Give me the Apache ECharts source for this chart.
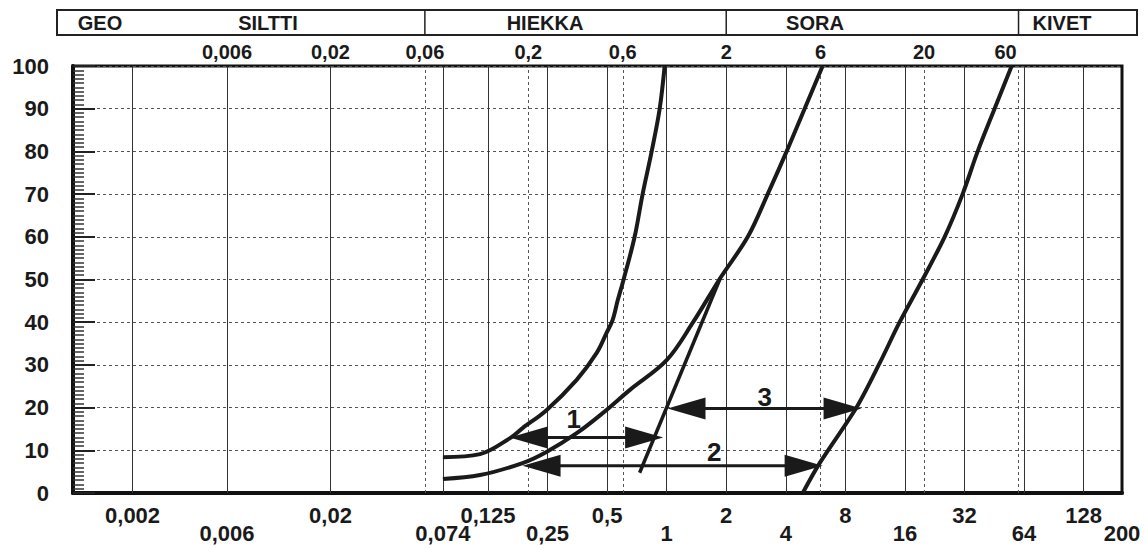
<!DOCTYPE html>
<html lang="fi">
<head>
<meta charset="UTF-8">
<script src="https://cdn.jsdelivr.net/npm/echarts/dist/echarts.min.js"></script>
<style>
    html, body { margin: 0; padding: 0; background: #fff; }
    #chart { width: 1148px; height: 549px; }
</style>
</head>
<body>
<div id="chart"></div>
<script>
// grain size (mm) against passing percentage
const curve1 = [[0.074, 8.4], [0.114, 9.1], [0.161, 12.8], [0.187, 15.2], [0.247, 19.4], [0.351, 26.5],
    [0.443, 32.8], [0.497, 37.5], [0.533, 40.5], [0.565, 45], [0.606, 50], [0.689, 60], [0.756, 70],
    [0.840, 80], [0.922, 90], [0.977, 100]];
const curve2 = [[0.074, 3.3], [0.114, 4.2], [0.187, 7.0], [0.247, 9.6], [0.351, 14.0], [0.475, 18.7],
    [0.650, 24.1], [1.0, 31.1], [1.36, 40], [1.87, 50.4], [2.57, 60], [3.24, 70], [4.04, 80],
    [4.98, 90], [6.14, 100]];
const line3 = [[0.73, 4.75], [1.87, 50.4]];
const curve4 = [[4.87, 0], [5.93, 7], [9.12, 20.1], [11.92, 30.4], [15.04, 40], [19.66, 50], [25.4, 60],
    [31.3, 70], [37.3, 80], [45.4, 90], [55.4, 100]];

// range arrows: from, to, level, label and label anchor
const arrowFrom = [0.161, 0.187, 1.01];
const arrowTo = [0.96, 6.14, 9.66];
const arrowLevel = [13, 6.4, 19.8];
const arrowName = ['1', '2', '3'];
const arrowTextAt = [[0.339, 17.3], [1.74, 9.5], [3.13, 22.4]];

// grid lines and tick labels
const solidLines = [0.002, 0.006, 0.02, 0.074, 0.125, 0.25, 0.5, 1, 2, 4, 8, 16, 32, 64, 128];
const dottedLines = [0.06, 0.2, 0.6, 6, 20, 60];
const topTicks = [0.006, 0.02, 0.06, 0.2, 0.6, 2, 6, 20, 60];
const bottomRow1 = [0.002, 0.02, 0.125, 0.5, 2, 8, 32, 128];
const bottomRow2 = [0.006, 0.074, 0.25, 1, 4, 16, 64, 200];

// header
const zoneNames = ['GEO', 'SILTTI', 'HIEKKA', 'SORA', 'KIVET'];
const zoneBounds = [0.06, 2, 60];

const ink = '#1a1a1a';
const font = 'Liberation Sans';
const fmt = v => String(v).replace('.', ',');

const chart = echarts.init(document.getElementById('chart'), null, { renderer: 'svg' });

// invisible marker line that only carries a tick label
function labelLine(v, pos, dist) {
    const item = {
        xAxis: v,
        name: fmt(v),
        lineStyle: { color: 'rgba(0,0,0,0)', width: 0 },
        label: { show: true, position: pos, distance: dist }
    };
    if (v === 60) item.label.offset = [-13, 0]; // printed a bit left of its line
    return item;
}

const curveStyle = { color: ink, width: 4 };

const option = {
    animation: false,
    grid: { left: 73, right: 26, top: 66, bottom: 56, show: true, borderColor: '#111', borderWidth: 3 },
    xAxis: {
        type: 'log',
        min: 0.001,
        max: 200,
        axisLine: { onZero: false, lineStyle: { color: '#111', width: 4 } },
        axisTick: { show: false },
        axisLabel: { show: false },
        splitLine: { show: false }
    },
    yAxis: {
        type: 'value',
        min: 0,
        max: 100,
        interval: 10,
        axisLine: { show: true, lineStyle: { color: '#111', width: 4 } },
        axisTick: { show: true, inside: true, length: 22, lineStyle: { color: '#222', width: 2 } },
        minorTick: { show: true, splitNumber: 10, length: 11, lineStyle: { color: '#333', width: 1.5 } },
        axisLabel: {
            color: ink, fontFamily: font, fontWeight: 'bold', fontSize: 22,
            margin: 24, padding: [10, 0, 0, 0]
        },
        splitLine: { show: true, lineStyle: { color: '#555', type: [3, 3], width: 1 } }
    },
    series: [
        {
            name: 'grid', type: 'line', data: [], z: 1,
            markLine: {
                silent: true, symbol: 'none', z: 1, animation: false, precision: 6,
                lineStyle: { color: '#333', type: 'solid', width: 1 },
                label: { formatter: '{b}', color: ink, fontFamily: font, fontWeight: 'bold', fontSize: 22 },
                data: solidLines.map(v => ({ xAxis: v, label: { show: false } }))
                    .concat(bottomRow1.map(v => labelLine(v, 'start', 11)))
                    .concat(bottomRow2.map(v => labelLine(v, 'start', 29)))
            }
        },
        {
            name: 'grid2', type: 'line', data: [], z: 1,
            markLine: {
                silent: true, symbol: 'none', z: 1, animation: false, precision: 6,
                lineStyle: { color: '#555', type: [3, 3], width: 1 },
                label: { formatter: '{b}', color: ink, fontFamily: font, fontWeight: 'bold', fontSize: 20 },
                data: dottedLines.map(v => ({ xAxis: v, label: { show: false } }))
                    .concat(topTicks.map(v => labelLine(v, 'end', 4)))
            }
        },
        { name: 'c1', type: 'line', data: curve1, smooth: 0.35, symbol: 'none', lineStyle: curveStyle, z: 3 },
        { name: 'c2', type: 'line', data: curve2, smooth: 0.35, symbol: 'none', lineStyle: curveStyle, z: 3 },
        { name: 'c3', type: 'line', data: line3, symbol: 'none', lineStyle: { color: ink, width: 3.5 }, z: 3 },
        { name: 'c4', type: 'line', data: curve4, smooth: 0.3, symbol: 'none', lineStyle: curveStyle, z: 3 },
        {
            name: 'arrows', type: 'custom', z: 4,
            data: arrowName.map((n, i) => [arrowFrom[i], arrowTo[i], arrowLevel[i], arrowTextAt[i][0], arrowTextAt[i][1]]),
            encode: { x: [0, 1, 3], y: [2, 4] },
            renderItem: function (params, api) {
                const a = api.coord([api.value(0), api.value(2)]);
                const b = api.coord([api.value(1), api.value(2)]);
                const t = api.coord([api.value(3), api.value(4)]);
                const L = 38, H = 11;
                return {
                    type: 'group',
                    children: [
                        { type: 'line', shape: { x1: a[0] + L - 2, y1: a[1], x2: b[0] - L + 2, y2: b[1] },
                          style: { stroke: ink, lineWidth: 3 } },
                        { type: 'polygon', shape: { points: [[a[0], a[1]], [a[0] + L, a[1] - H], [a[0] + L, a[1] + H]] },
                          style: { fill: ink } },
                        { type: 'polygon', shape: { points: [[b[0], b[1]], [b[0] - L, b[1] - H], [b[0] - L, b[1] + H]] },
                          style: { fill: ink } },
                        { type: 'text', x: t[0], y: t[1],
                          style: { text: arrowName[params.dataIndex], fill: ink, align: 'center', verticalAlign: 'middle',
                                   font: 'bold 26px "Liberation Sans"' } }
                    ]
                };
            }
        }
    ]
};

chart.setOption(option);

// header box above the plot, split at the soil class boundaries
const bx = zoneBounds.map(v => chart.convertToPixel({ xAxisIndex: 0 }, v));
const boxL = 57, boxR = 1137, boxT = 10, boxB = 35;
const zoneTextX = [100, 268, 545, 815, 1062];
const header = [
    { type: 'rect', shape: { x: boxL, y: boxT, width: boxR - boxL, height: boxB - boxT },
      style: { fill: 'none', stroke: '#222', lineWidth: 2 } }
];
bx.forEach(x => header.push({ type: 'line', shape: { x1: x, y1: boxT, x2: x, y2: boxB },
    style: { stroke: '#222', lineWidth: 1.5 } }));
zoneNames.forEach((n, i) => header.push({
    type: 'text', x: zoneTextX[i], y: (boxT + boxB) / 2,
    style: { text: n, fill: ink, align: 'center', verticalAlign: 'middle', font: 'bold 20px "Liberation Sans"' }
}));
chart.setOption({ graphic: header });
</script>
</body>
</html>
